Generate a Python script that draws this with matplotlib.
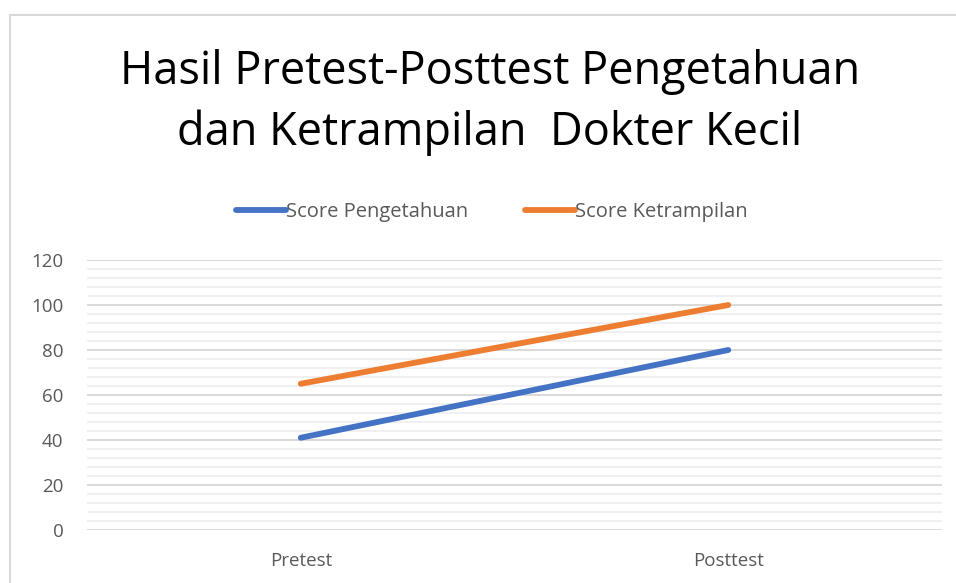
import matplotlib
matplotlib.use("Agg")
import matplotlib.pyplot as plt
from matplotlib.patches import Rectangle
from matplotlib.ticker import MultipleLocator

# data
categories = ["Pretest", "Posttest"]
score_pengetahuan = [41, 80]
score_ketrampilan = [65, 100]
series_names = ["Score Pengetahuan", "Score Ketrampilan"]
y_ticks = [0, 20, 40, 60, 80, 100, 120]

plt.rcParams["font.family"] = ["Open Sans", "DejaVu Sans"]

W, H = 956, 583
fig = plt.figure(figsize=(W / 100, H / 100), dpi=100)

# light chart-area frame
fig.patches.append(Rectangle((10 / W, -0.1), 1.1, (H - 15) / H + 0.1,
                             transform=fig.transFigure, fill=False,
                             edgecolor="#d9d9d9", linewidth=1.5))

ax = fig.add_axes([87 / W, (H - 530) / H, (942 - 87) / W, 270 / H])

x = range(len(categories))
ax.plot(x, score_pengetahuan, color="#4472c4", lw=4.2,
        solid_capstyle="round", label=series_names[0], zorder=3)
ax.plot(x, score_ketrampilan, color="#ed7d31", lw=4.2,
        solid_capstyle="round", label=series_names[1], zorder=3)

ax.set_xlim(-0.5, len(categories) - 0.5)
ax.set_ylim(0, 120)
ax.set_yticks(y_ticks)
ax.yaxis.set_minor_locator(MultipleLocator(4))
ax.set_xticks(list(x))
ax.set_xticklabels(categories)

ax.grid(axis="y", which="major", color="#d9d9d9", lw=1.4, zorder=0)
ax.grid(axis="y", which="minor", color="#f0f0f0", lw=1.4, zorder=0)
ax.set_axisbelow(True)
for s in ax.spines.values():
    s.set_visible(False)
ax.tick_params(axis="both", which="both", length=0, colors="#595959",
               labelsize=13.5)
ax.tick_params(axis="y", pad=17)
ax.tick_params(axis="x", pad=16)

fig.text(490 / W, 1 - 72 / H, "Hasil Pretest-Posttest Pengetahuan",
         ha="center", va="center", fontsize=32.5, color="black")
fig.text(490 / W, 1 - 133 / H, "dan Ketrampilan  Dokter Kecil",
         ha="center", va="center", fontsize=32.5, color="black")

fig.legend(loc="center", bbox_to_anchor=(492 / W, 1 - 212 / H), ncol=2,
           frameon=False, fontsize=14.5, handlelength=2.5, handletextpad=0.0,
           columnspacing=2.8, labelcolor="#595959")

fig.savefig("out.png", dpi=100)
